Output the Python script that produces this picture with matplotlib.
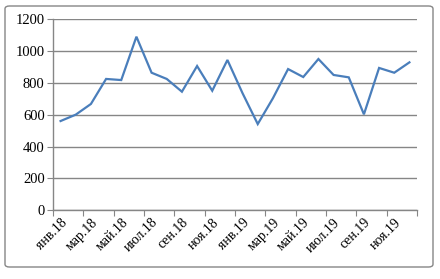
import matplotlib
matplotlib.use('Agg')
import matplotlib.pyplot as plt
from matplotlib.patches import FancyBboxPatch
import numpy as np

# ── Data ───────────────────────────────────────────────────────────────
months = ["янв.18", "фев.18", "мар.18", "апр.18", "май.18", "июн.18",
          "июл.18", "авг.18", "сен.18", "окт.18", "ноя.18", "дек.18",
          "янв.19", "фев.19", "мар.19", "апр.19", "май.19", "июн.19",
          "июл.19", "авг.19", "сен.19", "окт.19", "ноя.19", "дек.19"]
values = [560, 600, 667, 824, 817, 1089, 863, 824, 744, 905, 750, 943,
          734, 541, 703, 886, 836, 949, 849, 834, 602, 893, 863, 928]
y_ticks = [0, 200, 400, 600, 800, 1000, 1200]

plt.rcParams['font.family'] = ['Liberation Serif', 'DejaVu Serif']

fig = plt.figure(figsize=(4.4, 2.79), dpi=100)
fig.patches.append(FancyBboxPatch((5 / 440, 1 - 267 / 279), 428 / 440, 261 / 279,
                                  boxstyle="round,pad=0,rounding_size=0.01",
                                  transform=fig.transFigure, fill=False,
                                  edgecolor='#868686', linewidth=1.0))
ax = fig.add_axes([53 / 440, 1 - 210.3 / 279, 364 / 440, 191.3 / 279])

x = np.arange(len(values))
ax.plot(x, values, color='#4a7ebb', linewidth=1.6, solid_joinstyle='miter')

ax.set_xlim(-0.5, len(values) - 0.5)
ax.set_ylim(0, 1200)
ax.set_yticks(y_ticks)
ax.set_yticklabels([str(v) for v in y_ticks], fontsize=10.5)
ax.yaxis.grid(True, color='#868686', linewidth=1.0)
ax.set_axisbelow(True)

ax.set_xticks(np.arange(-0.5, len(values), 2))
ax.set_xticklabels([])
ax.set_xticks(x[::2], minor=True)
ax.set_xticklabels(months[::2], minor=True, rotation=45, ha='right',
                   va='top', rotation_mode='anchor', fontsize=10)
ax.tick_params(axis='x', which='minor', length=0, pad=4)
ax.tick_params(axis='x', which='major', length=4, color='#868686', direction='out')
ax.tick_params(axis='y', length=4, color='#868686', pad=2)

for s in ['top', 'right']:
    ax.spines[s].set_visible(False)
for s in ['left', 'bottom']:
    ax.spines[s].set_color('#868686')
    ax.spines[s].set_linewidth(1.0)

plt.savefig('out.png', dpi=100)
